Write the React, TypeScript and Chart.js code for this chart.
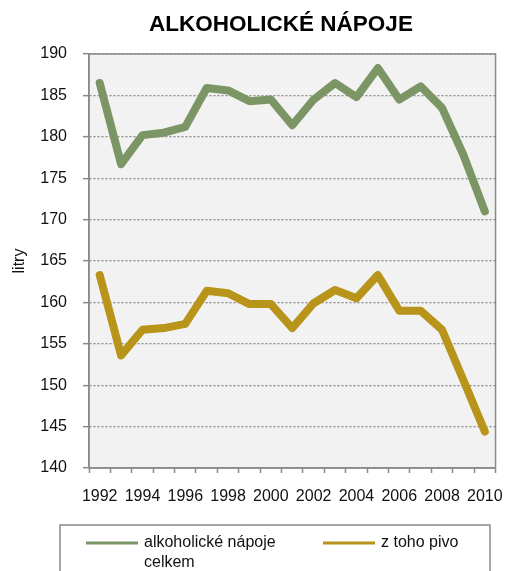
import React, { useEffect, useRef } from "react";
import { Chart, registerables } from "chart.js";

Chart.register(...registerables);

// Per-capita consumption, litres per year
const years = [
  "1992", "1993", "1994", "1995", "1996", "1997", "1998", "1999", "2000", "2001",
  "2002", "2003", "2004", "2005", "2006", "2007", "2008", "2009", "2010",
];
const alkoholCelkem = [
  186.5, 176.7, 180.2, 180.5, 181.2, 185.9, 185.6, 184.3, 184.5, 181.4,
  184.5, 186.5, 184.8, 188.3, 184.5, 186.1, 183.5, 177.8, 171.0,
];
const pivo = [
  163.3, 153.6, 156.7, 156.9, 157.4, 161.4, 161.1, 159.8, 159.8, 156.9,
  159.9, 161.5, 160.5, 163.3, 159.0, 159.0, 156.7, 150.6, 144.4,
];
const seriesLabels = ["alkoholické nápoje celkem", "z toho pivo"];
const legendLines = [["alkoholické nápoje", "celkem"], ["z toho pivo"]];
const titleText = "ALKOHOLICKÉ NÁPOJE";
const yTitle = "litry";

const GREEN = "#7C9565";
const GOLD = "#B8941A";
const AXIS = "#8a8a8a";
const FONT = "'Liberation Sans', Arial, sans-serif";

const framePlugin = {
  id: "frame",
  beforeDraw(chart: any) {
    const { ctx, chartArea: a } = chart;
    ctx.save();
    ctx.fillStyle = "#F2F2F2";
    ctx.fillRect(a.left, a.top, a.right - a.left, a.bottom - a.top);
    ctx.restore();
  },
  beforeDatasetsDraw(chart: any) {
    const { ctx, chartArea: a } = chart;
    ctx.save();
    ctx.strokeStyle = AXIS;
    ctx.lineWidth = 1.5;
    ctx.strokeRect(a.left, a.top, a.right - a.left, a.bottom - a.top);
    ctx.restore();
  },
  afterDraw(chart: any) {
    const { ctx } = chart;
    ctx.save();
    // title
    ctx.fillStyle = "#000";
    ctx.font = `bold 22.5px ${FONT}`;
    ctx.textAlign = "center";
    ctx.textBaseline = "middle";
    ctx.fillText(titleText, 281, 25);

    // legend box
    ctx.strokeStyle = AXIS;
    ctx.lineWidth = 1.5;
    ctx.strokeRect(60, 525, 430, 60);
    const xs = [86, 323];
    const colors = chart.data.datasets.map((d: any) => d.borderColor);
    ctx.font = `16px ${FONT}`;
    ctx.textAlign = "left";
    ctx.fillStyle = "#111";
    legendLines.forEach((lines, i) => {
      ctx.strokeStyle = colors[i];
      ctx.lineWidth = 3;
      ctx.beginPath();
      ctx.moveTo(xs[i], 543);
      ctx.lineTo(xs[i] + 52, 543);
      ctx.stroke();
      lines.forEach((t, j) => {
        ctx.fillText(t, xs[i] + 58, 543 + j * 20);
      });
    });
    ctx.restore();
  },
};

export default function App() {
  const ref = useRef<HTMLCanvasElement>(null);

  useEffect(() => {
    if (!ref.current) return;
    const chart = new Chart(ref.current, {
      type: "line",
      data: {
        labels: years,
        datasets: [
          {
            label: seriesLabels[0],
            data: alkoholCelkem,
            borderColor: GREEN,
            backgroundColor: GREEN,
            borderWidth: 8,
            pointRadius: 0,
            borderJoinStyle: "round",
            borderCapStyle: "round",
            tension: 0,
          },
          {
            label: seriesLabels[1],
            data: pivo,
            borderColor: GOLD,
            backgroundColor: GOLD,
            borderWidth: 8,
            pointRadius: 0,
            borderJoinStyle: "round",
            borderCapStyle: "round",
            tension: 0,
          },
        ],
      },
      options: {
        animation: false,
        responsive: false,
        maintainAspectRatio: false,
        layout: { padding: { left: 0, top: 54, right: 14, bottom: 63 } },
        plugins: {
          legend: { display: false },
          title: { display: false },
          tooltip: { enabled: false },
        },
        scales: {
          x: {
            type: "category",
            offset: true,
            grid: {
              offset: true,
              drawOnChartArea: false,
              drawTicks: true,
              tickLength: 5,
              tickColor: AXIS,
              tickWidth: 1.5,
            },
            border: { display: true, color: AXIS, width: 1.5 },
            ticks: {
              autoSkip: false,
              maxRotation: 0,
              minRotation: 0,
              padding: 14,
              color: "#111",
              font: { family: FONT, size: 16 },
              callback: (_v: any, i: number) => (i % 2 === 0 ? years[i] : ""),
            },
            afterFit: (s: any) => {
              s.height = 40;
            },
          },
          y: {
            min: 140,
            max: 190,
            grid: {
              color: AXIS,
              lineWidth: 1.3,
              tickBorderDash: [],
              drawTicks: true,
              tickLength: 6,
              tickColor: AXIS,
              tickWidth: 1.5,
            },
            border: { display: true, color: AXIS, width: 1.5, dash: [2, 2] },
            ticks: {
              stepSize: 5,
              padding: 16,
              color: "#111",
              font: { family: FONT, size: 16 },
            },
            title: {
              display: true,
              text: yTitle,
              color: "#111",
              font: { family: FONT, size: 16 },
              padding: { top: 10, bottom: 0 },
            },
            afterFit: (s: any) => {
              s.width = 89;
            },
          },
        },
      },
      plugins: [framePlugin],
    });
    return () => chart.destroy();
  }, []);

  return (
    <div style={{ position: "fixed", left: 0, top: 0, width: 517, height: 571, background: "#fff" }}>
      <canvas ref={ref} width={517} height={571} style={{ width: 517, height: 571, display: "block" }} />
    </div>
  );
}
